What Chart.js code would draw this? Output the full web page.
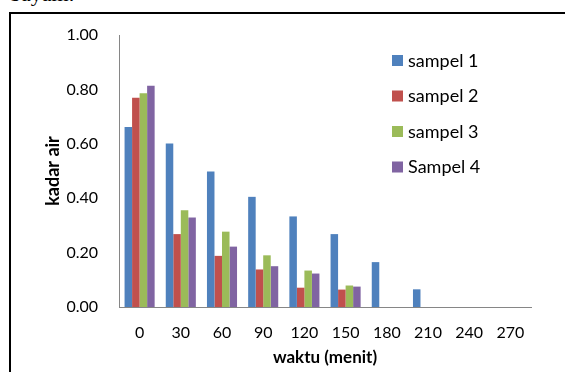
<!DOCTYPE html>
<html>
<head>
<meta charset="utf-8">
<script src="https://cdn.jsdelivr.net/npm/chart.js@4.4.1/dist/chart.umd.min.js"></script>
<style>
    body { margin: 0; background: #fff; overflow: hidden; }
    #wrap { position: relative; width: 565px; height: 372px; }
    #caption { position: absolute; left: 10px; top: -19px; font: 22px "Liberation Serif", serif; color: #000; }
    #frame { position: absolute; left: 9px; top: 12px; width: 600px; height: 400px;
             border-left: 2px solid #000; border-top: 2px solid #000; }
    canvas { position: absolute; left: 0; top: 0; }
</style>
</head>
<body>
<div id="wrap">
    <div id="caption">bayam.</div>
    <div id="frame"></div>
    <canvas id="chart" width="565" height="372"></canvas>
</div>
<script>
// waktu pengeringan (menit)
const categories = ["0", "30", "60", "90", "120", "150", "180", "210", "240", "270"];
const seriesNames = ["sampel 1", "sampel 2", "sampel 3", "Sampel 4"];
const sampel1 = [0.662, 0.601, 0.498, 0.405, 0.333, 0.268, 0.165, 0.065, null, null];
const sampel2 = [0.769, 0.268, 0.188, 0.138, 0.071, 0.064, null, null, null, null];
const sampel3 = [0.786, 0.356, 0.277, 0.190, 0.134, 0.079, null, null, null, null];
const sampel4 = [0.813, 0.329, 0.222, 0.150, 0.123, 0.075, null, null, null, null];
const yTicks = [0, 0.2, 0.4, 0.6, 0.8, 1.0];

const colors = ["#4F81BD", "#C0504D", "#9BBB59", "#8064A2"];
const values = [sampel1, sampel2, sampel3, sampel4];

// legend drawn inside the plot, like the excel one
const legendBox = {
    id: "legendBox",
    afterDraw(chart) {
        const ctx = chart.ctx;
        ctx.save();
        ctx.font = "18px Lato";
        ctx.textBaseline = "middle";
        chart.data.datasets.forEach((ds, i) => {
            const y = 60 + i * 35.5;
            ctx.fillStyle = ds.backgroundColor;
            ctx.fillRect(392, y - 5, 11, 11);
            ctx.fillStyle = "#000";
            ctx.fillText(ds.label, 408, y + 1);
        });
        ctx.restore();
    }
};

new Chart(document.getElementById("chart"), {
    type: "bar",
    data: {
        labels: categories,
        datasets: values.map((v, i) => ({
            label: seriesNames[i],
            data: v,
            backgroundColor: colors[i],
            borderWidth: 0,
            categoryPercentage: 0.73,
            barPercentage: 1.0,
        })),
    },
    options: {
        responsive: false,
        animation: false,
        layout: { padding: { left: 38, top: 35, right: 34, bottom: 0 } },
        plugins: {
            legend: { display: false },
            tooltip: { enabled: false },
        },
        scales: {
            x: {
                grid: { display: false },
                border: { display: true, color: "#868686", width: 1 },
                ticks: { color: "#000", font: { family: "Lato", size: 16 }, padding: 8, maxRotation: 0 },
                title: { display: true, text: "waktu (menit)", color: "#000",
                         font: { family: "Lato", size: 17, weight: "bold" }, padding: { top: 4, bottom: 4 } },
                afterFit(scale) { scale.height = 65; },
            },
            y: {
                min: 0,
                max: 1,
                grid: { display: false },
                border: { display: true, color: "#868686", width: 1 },
                afterBuildTicks(scale) { scale.ticks = yTicks.map(v => ({ value: v })); },
                ticks: { color: "#000", font: { family: "Lato", size: 16 }, padding: 13,
                         callback: v => v.toFixed(2) },
                title: { display: true, text: "kadar air", color: "#000",
                         font: { family: "Lato", size: 18, weight: "bold" }, padding: { top: 4, bottom: 4 } },
                afterFit(scale) { scale.width = 81; },
            },
        },
    },
    plugins: [legendBox],
});
</script>
</body>
</html>
